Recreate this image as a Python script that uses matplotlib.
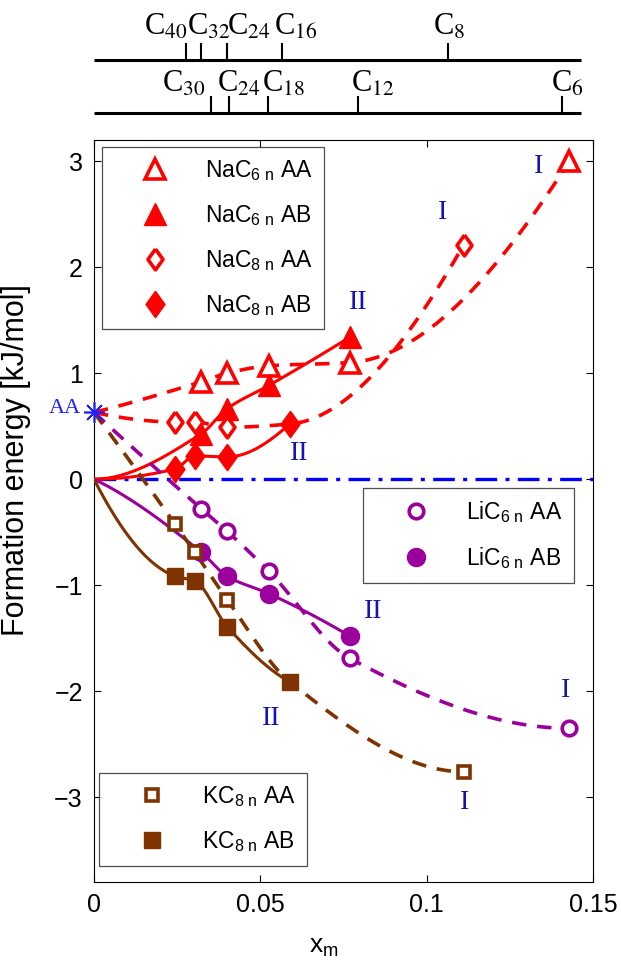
import numpy as np
import matplotlib
matplotlib.use('Agg')
import matplotlib.pyplot as plt

plt.rcParams['font.family'] = ['Liberation Sans', 'DejaVu Sans']
plt.rcParams['mathtext.fontset'] = 'custom'
plt.rcParams['mathtext.rm'] = 'Liberation Sans'
plt.rcParams['mathtext.it'] = 'Liberation Sans:italic'
plt.rcParams['mathtext.bf'] = 'Liberation Sans:bold'

# ---------------- data ----------------
x_c6n = [0.0323, 0.0400, 0.0526, 0.0769, 0.1429]   # C30, C24, C18, C12, C6
x_c8n = [0.0244, 0.0303, 0.0400, 0.0588, 0.1111]   # C40, C32, C24, C16, C8

na6_aa = [0.92, 1.00, 1.07, 1.10, 3.00]
na6_ab = [0.43, 0.665, 0.885, 1.34]
na8_aa = [0.54, 0.54, 0.49, 0.52, 2.21]
na8_ab = [0.097, 0.22, 0.21, 0.52]
li6_aa = [-0.28, -0.49, -0.87, -1.69, -2.35]
li6_ab = [-0.69, -0.915, -1.08, -1.48]
k8_aa = [-0.425, -0.69, -1.135, -1.91, -2.76]
k8_ab = [-0.915, -0.96, -1.39, -1.91]

aa_ref = 0.63     # AA stacking reference energy at x_m = 0
ab_ref = 0.0

top_upper_labels = ['40', '32', '24', '16', '8']
top_upper_pos = [0.0276, 0.0321, 0.0399, 0.0564, 0.1065]
top_lower_labels = ['30', '24', '18', '12', '6']
top_lower_pos = [0.0351, 0.0405, 0.0522, 0.0795, 0.1407]

# ---------------- styles ----------------
RED = '#ff0000'
PURPLE = '#9c009c'
BROWN = '#7f3300'
LBLUE = '#1414b4'


def _end_slope(h0, h1, d0, d1):
    s = ((2 * h0 + h1) * d0 - h0 * d1) / (h0 + h1)
    if np.sign(s) != np.sign(d0):
        s = 0.0
    elif np.sign(d0) != np.sign(d1) and abs(s) > abs(3 * d0):
        s = 3 * d0
    return s


def pchip(x, y, xs):
    x = np.asarray(x, float); y = np.asarray(y, float)
    h = np.diff(x); d = np.diff(y) / h
    n = len(x)
    m = np.zeros(n)
    for k in range(1, n - 1):
        if d[k - 1] * d[k] > 0:
            w1 = 2 * h[k] + h[k - 1]; w2 = h[k] + 2 * h[k - 1]
            m[k] = (w1 + w2) / (w1 / d[k - 1] + w2 / d[k])
    if n > 2:
        m[0] = _end_slope(h[0], h[1], d[0], d[1])
        m[-1] = _end_slope(h[-1], h[-2], d[-1], d[-2])
    else:
        m[0] = d[0]; m[-1] = d[-1]
    out = np.empty_like(xs)
    for i, xv in enumerate(xs):
        k = min(max(np.searchsorted(x, xv) - 1, 0), n - 2)
        t = (xv - x[k]) / h[k]
        h00 = 2 * t**3 - 3 * t**2 + 1; h10 = t**3 - 2 * t**2 + t
        h01 = -2 * t**3 + 3 * t**2; h11 = t**3 - t**2
        out[i] = h00 * y[k] + h10 * h[k] * m[k] + h01 * y[k + 1] + h11 * h[k] * m[k + 1]
    return out


def curve(ax, xs, ys, y0, color, dashed):
    xx = [0.0] + list(xs); yy = [y0] + list(ys)
    xf = np.linspace(0, xx[-1], 400)
    yf = pchip(xx, yy, xf)
    if dashed:
        ax.plot(xf, yf, color=color, lw=2.6, dashes=(4, 3), zorder=3)
    else:
        ax.plot(xf, yf, color=color, lw=2.2, zorder=3)


fig = plt.figure(figsize=(6.21, 9.63), dpi=100)
W, H = 621, 963
ax = fig.add_axes([94 / W, 1 - 882 / H, 499 / W, (882 - 140) / H])

# zero line
ax.plot([0, 0.15], [0, 0], color='#0000ff', lw=2.4, dashes=(6.5, 2.5, 1.2, 2.5), zorder=2)

# curves
curve(ax, x_c6n, na6_aa, aa_ref, RED, True)
curve(ax, x_c6n[:4], na6_ab, ab_ref, RED, False)
curve(ax, x_c8n, na8_aa, aa_ref, RED, True)
curve(ax, x_c8n[:4], na8_ab, ab_ref, RED, False)
curve(ax, x_c6n, li6_aa, aa_ref, PURPLE, True)
curve(ax, x_c6n[:4], li6_ab, ab_ref, PURPLE, False)
curve(ax, x_c8n, k8_aa, aa_ref, BROWN, True)
curve(ax, x_c8n[:4], k8_ab, ab_ref, BROWN, False)

diamond = [(0, 1), (0.72, 0), (0, -1), (-0.72, 0), (0, 1)]

h_na6_aa, = ax.plot(x_c6n, na6_aa, ls='none', marker='^', ms=14, mfc='white', mec=RED, mew=2.6, zorder=5,
                    label=r'NaC$_{\mathrm{6\ n}}$ AA')
h_na6_ab, = ax.plot(x_c6n[:4], na6_ab, ls='none', marker='^', ms=16, mfc=RED, mec=RED, mew=1, zorder=5,
                    label=r'NaC$_{\mathrm{6\ n}}$ AB')
h_na8_aa, = ax.plot(x_c8n, na8_aa, ls='none', marker=diamond, ms=15, mfc='white', mec=RED, mew=2.6, zorder=5,
                    label=r'NaC$_{\mathrm{8\ n}}$ AA')
h_na8_ab, = ax.plot(x_c8n[:4], na8_ab, ls='none', marker=diamond, ms=19, mfc=RED, mec=RED, mew=1, zorder=6,
                    label=r'NaC$_{\mathrm{8\ n}}$ AB')
h_li6_aa, = ax.plot(x_c6n, li6_aa, ls='none', marker='o', ms=10.5, mfc='white', mec=PURPLE, mew=2.6, zorder=5,
                    label=r'LiC$_{\mathrm{6\ n}}$ AA')
h_li6_ab, = ax.plot(x_c6n[:4], li6_ab, ls='none', marker='o', ms=13, mfc=PURPLE, mec=PURPLE, mew=1, zorder=5,
                    label=r'LiC$_{\mathrm{6\ n}}$ AB')
h_k8_aa, = ax.plot(x_c8n, k8_aa, ls='none', marker='s', ms=8.5, mfc='white', mec=BROWN, mew=2.6, zorder=5,
                   label=r'KC$_{\mathrm{8\ n}}$ AA')
h_k8_ab, = ax.plot(x_c8n[:4], k8_ab, ls='none', marker='s', ms=11, mfc=BROWN, mec=BROWN, mew=1, zorder=6,
                   label=r'KC$_{\mathrm{8\ n}}$ AB')

# AA reference star
ax.plot([0], [aa_ref], ls='none', marker=(8, 2, 0), ms=15, mec='#2020ff', mew=1.2, clip_on=False, zorder=7)
ax.annotate('AA', xy=(0, aa_ref), xytext=(-9, 3), textcoords='offset points', ha='right', va='center',
            fontsize=16, color='#2020ff', family='Liberation Serif', annotation_clip=False)

# branch labels
roman = [('I', 0.1335, 2.95), ('I', 0.1047, 2.52), ('II', 0.0795, 1.67), ('II', 0.0618, 0.24),
         ('II', 0.0840, -1.25), ('I', 0.1419, -1.99), ('II', 0.0534, -2.26), ('I', 0.1113, -3.05)]
for s, xv, yv in roman:
    ax.text(xv, yv, s, ha='center', va='center', fontsize=20, color=LBLUE, family='Liberation Serif')

ax.set_xlim(0, 0.15)
ax.set_ylim(-3.8, 3.2)
ax.set_xticks([0, 0.05, 0.1, 0.15])
ax.set_xticklabels(['0', '0.05', '0.1', '0.15'])
ax.set_yticks([-3, -2, -1, 0, 1, 2, 3])
ax.set_yticklabels(['\u22123', '\u22122', '\u22121', '0', '1', '2', '3'])
ax.tick_params(direction='in', top=True, right=True, length=5, width=0.8, labelsize=18, pad=8)
for sp in ax.spines.values():
    sp.set_linewidth(0.8)
ax.set_xlabel(r'x$_{\mathrm{m}}$', fontsize=19)
ax.xaxis.set_label_coords(0.461, -0.072)
ax.set_ylabel('Formation energy [kJ/mol]', fontsize=22)
ax.yaxis.set_label_coords(-0.126, 0.569)

leg_kw = dict(frameon=True, fancybox=False, edgecolor='#222222', fontsize=16.5, handlelength=3.6,
              handletextpad=0.4, borderpad=0.5, labelspacing=0.87, borderaxespad=0,
              bbox_transform=fig.transFigure, loc='upper left')
leg1 = ax.legend(handles=[h_na6_aa, h_na6_ab, h_na8_aa, h_na8_ab], bbox_to_anchor=(102 / W, 1 - 147 / H), **leg_kw)
leg1.get_frame().set_linewidth(0.9)
ax.add_artist(leg1)
leg2 = ax.legend(handles=[h_li6_aa, h_li6_ab], bbox_to_anchor=(363 / W, 1 - 488 / H), **leg_kw)
leg2.get_frame().set_linewidth(0.9)
ax.add_artist(leg2)
leg3 = ax.legend(handles=[h_k8_aa, h_k8_ab], bbox_to_anchor=(99 / W, 1 - 773 / H), **leg_kw)
leg3.get_frame().set_linewidth(0.9)

# ---------------- top composition scales ----------------
axt = fig.add_axes([94 / W, 1 - 130 / H, 499 / W, 130 / H])
axt.set_xlim(0, 0.15)
axt.set_ylim(130, 0)
axt.axis('off')
line_end = 0.1464
for ybase, pos, labs, shifts, ylab in [
        (60, top_upper_pos, top_upper_labels, [-42, -14, 0, -8, -15], 35),
        (113, top_lower_pos, top_lower_labels, [-49, -12, -6, -7, -11], 92)]:
    axt.plot([0, line_end], [ybase, ybase], color='black', lw=2.2, solid_capstyle='butt', clip_on=False)
    for p, lab, sh in zip(pos, labs, shifts):
        axt.plot([p, p], [ybase, ybase - 16], color='black', lw=1.5, clip_on=False)
        axt.annotate(r'C$_{%s}$' % lab, xy=(p, ylab), xytext=(sh * 0.72, 0), textcoords='offset points',
                     ha='left', va='baseline', fontsize=22, family='Liberation Serif',
                     math_fontfamily='stix', annotation_clip=False)

fig.savefig('out.png', dpi=100)
